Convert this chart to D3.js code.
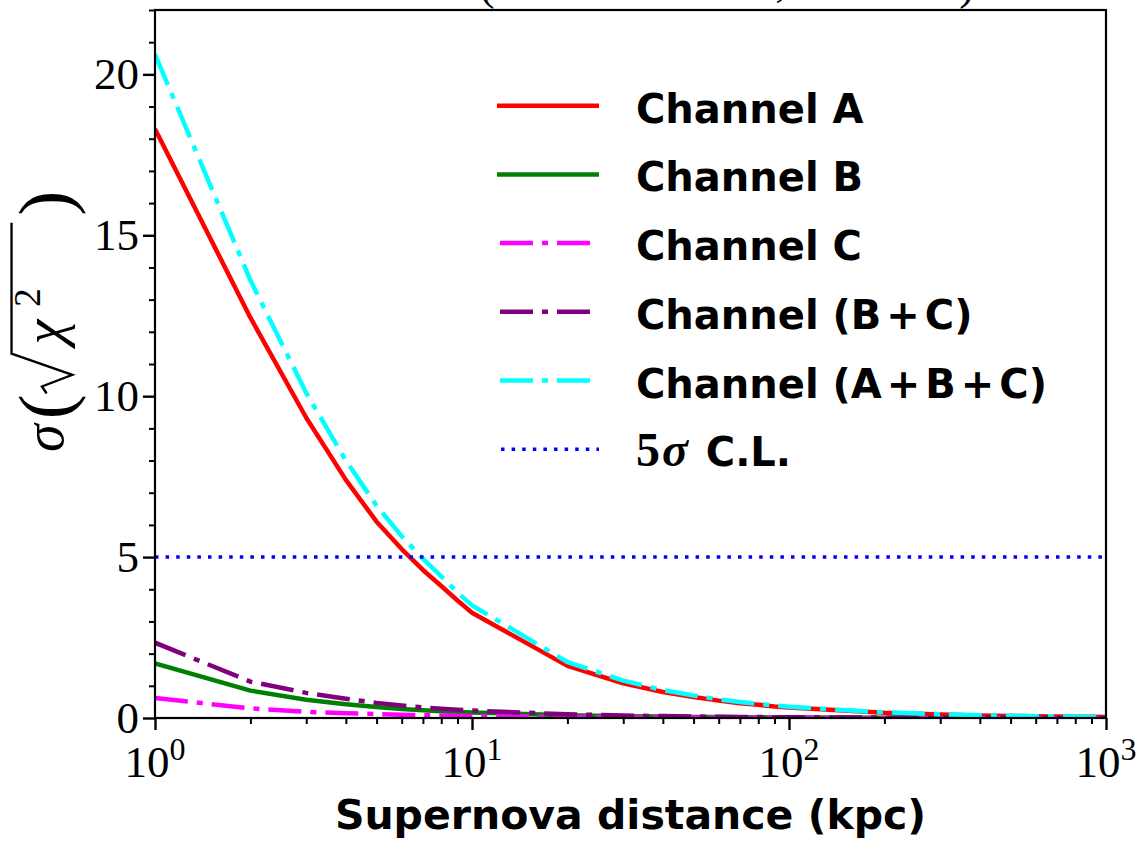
<!DOCTYPE html>
<html><head><meta charset="utf-8">
<script src="https://cdn.jsdelivr.net/npm/d3@7"></script>
<style>body{margin:0;background:#fff} svg{display:block}</style>
</head><body><svg id="c" width="1140" height="845"></svg>
<script>
// ---- data ----
const distances = [1,2,3,4,5,6,7,8,9,10,20,30,40,50,60,70,80,90,100,200,300,400,500,600,700,800,900,1000];
const channelA   = [18.3,12.44,9.33,7.40,6.10,5.25,4.60,4.10,3.65,3.27,1.62,1.08,0.81,0.65,0.54,0.46,0.41,0.36,0.33,0.16,0.11,0.08,0.065,0.055,0.047,0.041,0.036,0.033];
const channelB   = [1.70,0.85,0.57,0.43,0.34,0.28,0.24,0.21,0.19,0.17,0.085,0.057,0.043,0.034,0.028,0.024,0.021,0.019,0.017,0.0085,0.0057,0.0043,0.0034,0.0028,0.0024,0.0021,0.0019,0.0017];
const channelC   = [0.62,0.30,0.19,0.15,0.12,0.10,0.088,0.077,0.069,0.062,0.031,0.021,0.016,0.012,0.010,0.009,0.008,0.007,0.006,0.003,0.002,0.0016,0.0012,0.001,0.0009,0.0008,0.0007,0.0006];
const channelBC  = [2.34,1.13,0.78,0.60,0.47,0.39,0.33,0.29,0.26,0.23,0.115,0.078,0.059,0.046,0.038,0.033,0.029,0.026,0.023,0.0115,0.0078,0.0059,0.0046,0.0038,0.0033,0.0029,0.0026,0.0023];
const channelABC = [20.62,13.6,10.1,8.0,6.6,5.65,4.95,4.4,3.9,3.5,1.74,1.16,0.87,0.70,0.58,0.50,0.44,0.39,0.35,0.175,0.117,0.088,0.07,0.058,0.05,0.044,0.039,0.035];
const clLevel = 5;
const seriesNames = ["Channel A","Channel B","Channel C","Channel (B+C)","Channel (A+B+C)"];
const xTickValues = [1,10,100,1000];
const xTickExponents = ["0","1","2","3"];
const yTickValues = [0,5,10,15,20];
const xLabel = "Supernova distance (kpc)";

// ---- styles ----
const colors = ["#ff0000","#008000","#ff00ff","#800080","#00ffff"];
const dashes = [null,null,"33,9,6,9","33,9,6,9","33,9,6,9"];
const seriesData = [channelA,channelB,channelC,channelBC,channelABC];

const L=155,R=1106,T=10,B=718;
const svg = d3.select("#c");
const x = d3.scaleLog().domain([1,1000]).range([L,R]);
const y = d3.scaleLinear().domain([0,22]).range([B,T]);

svg.append("defs").append("clipPath").attr("id","clip")
  .append("rect").attr("x",L).attr("y",T).attr("width",R-L).attr("height",B-T);

// lines
const line = d3.line().x(d=>x(d[0])).y(d=>y(d[1]));
const plot = svg.append("g").attr("clip-path","url(#clip)");
seriesData.forEach((vals,i)=>{
  plot.append("path")
    .datum(distances.map((d,j)=>[d,vals[j]]))
    .attr("d",line).attr("fill","none")
    .attr("stroke",colors[i]).attr("stroke-width",4.5)
    .attr("stroke-dasharray",dashes[i])
    .attr("stroke-linejoin","round");
});
plot.append("path")
  .datum([[1,clLevel],[1000,clLevel]])
  .attr("d",line).attr("fill","none").attr("stroke","#0000ff")
  .attr("stroke-width",3.5).attr("stroke-dasharray","3.5,7.1");

// axes
function styleAxis(g,w){
  g.select(".domain").remove();
  g.selectAll(".tick line").attr("stroke","#000").attr("stroke-width",w);
  g.selectAll(".tick text").remove();
}
const minorX=[];
[1,10,100].forEach(dec=>{for(let k=2;k<=9;k++)minorX.push(dec*k);});
const minorY=d3.range(0,23).filter(v=>v%5!==0);
svg.append("g").attr("transform",`translate(0,${B})`)
  .call(d3.axisBottom(x).tickValues(minorX).tickSize(6)).call(g=>styleAxis(g,2));
svg.append("g").attr("transform",`translate(0,${B})`)
  .call(d3.axisBottom(x).tickValues(xTickValues).tickSize(12)).call(g=>styleAxis(g,2.4));
svg.append("g").attr("transform",`translate(${L},0)`)
  .call(d3.axisLeft(y).tickValues(minorY).tickSize(6)).call(g=>styleAxis(g,2));
svg.append("g").attr("transform",`translate(${L},0)`)
  .call(d3.axisLeft(y).tickValues(yTickValues).tickSize(12)).call(g=>styleAxis(g,2.4));

// spines
svg.append("rect").attr("x",L).attr("y",T).attr("width",R-L).attr("height",B-T)
  .attr("fill","none").attr("stroke","#000").attr("stroke-width",2.2);

const serif = "'Liberation Serif', 'DejaVu Serif', serif";
const sans = "'DejaVu Sans', sans-serif";

// y tick labels
svg.append("g").selectAll("text").data(yTickValues).join("text")
  .attr("x",139).attr("y",d=>y(d)+15)
  .attr("text-anchor","end").attr("font-family",serif).attr("font-size",45)
  .text(d=>d);

// x tick labels
const xl = svg.append("g").selectAll("text").data(xTickValues).join("text")
  .attr("x",d=>x(d)).attr("y",777)
  .attr("text-anchor","middle").attr("font-family",serif).attr("font-size",45);
xl.append("tspan").text("10");
xl.append("tspan").attr("font-size",32).attr("dy",-17).text((d,i)=>xTickExponents[i]);

// x axis label
svg.append("text").attr("x",(L+R)/2).attr("y",829).attr("text-anchor","middle")
  .attr("font-family",sans).attr("font-weight","bold").attr("font-size",41)
  .text(xLabel);

// y axis label: sigma( sqrt(chi^2) )
const yl = svg.append("g").attr("transform","translate(63,452) rotate(-90) scale(1.17)");
yl.append("text").attr("x",0).attr("y",0).attr("font-family",serif).attr("font-style","italic").attr("font-size",48).text("σ");
yl.append("text").attr("x",28).attr("y",6).attr("font-family",serif).attr("font-size",64).text("(");
yl.append("path").attr("d","M50,-14 L56,-18 L66,8 L84,-44 L196,-44")
  .attr("fill","none").attr("stroke","#000").attr("stroke-width",2).attr("stroke-linejoin","miter");
yl.append("text").attr("x",92).attr("y",0).attr("font-family",serif).attr("font-style","italic").attr("font-size",48).text("χ");
yl.append("text").attr("x",124).attr("y",-20).attr("font-family",serif).attr("font-size",32).text("2");
yl.append("text").attr("x",202).attr("y",6).attr("font-family",serif).attr("font-size",64).text(")");

// cropped title fragments at the very top (the reference is cut off here)
[["(",487],[",",781],[")",967]].forEach(([t,px])=>{
  svg.append("text").attr("x",px).attr("y",t===","?-4:-1).attr("text-anchor","middle")
    .attr("font-family",serif).attr("font-size",46).text(t);
});

// legend
const legY0=105.7, legDy=68.7;
const leg = svg.append("g");
seriesNames.forEach((name,i)=>{
  const yy = legY0+i*legDy;
  if(dashes[i]) {
    leg.append("line").attr("x1",500).attr("x2",591).attr("y1",yy).attr("y2",yy)
      .attr("stroke",colors[i]).attr("stroke-width",4.5).attr("stroke-dasharray",dashes[i]);
  } else {
    leg.append("line").attr("x1",497).attr("x2",599).attr("y1",yy).attr("y2",yy)
      .attr("stroke",colors[i]).attr("stroke-width",4.5);
  }
  const t = leg.append("text").attr("x",636).attr("y",yy+17)
    .attr("font-family",sans).attr("font-weight","bold").attr("font-size",40);
  name.split("+").forEach((part,k)=>{
    if(k>0) t.append("tspan").attr("dx",5).text("+");
    t.append("tspan").attr("dx",k>0?5:0).text(part);
  });
});
{
  const yy = legY0+5*legDy;
  leg.append("line").attr("x1",501).attr("x2",599).attr("y1",yy).attr("y2",yy)
    .attr("stroke","#0000ff").attr("stroke-width",3.5).attr("stroke-dasharray","3.5,7.1");
  const t = leg.append("text").attr("x",636).attr("y",yy+17).attr("font-size",40);
  t.append("tspan").attr("font-family",serif).attr("font-weight","bold").attr("font-size",48).text("5");
  t.append("tspan").attr("font-family",serif).attr("font-style","italic").attr("font-weight","bold").attr("font-size",48).attr("dx",2).text("σ");
  t.append("tspan").attr("font-family",sans).attr("font-weight","bold").attr("dx",4).text(" C.L.");
}
</script>
</body></html>
